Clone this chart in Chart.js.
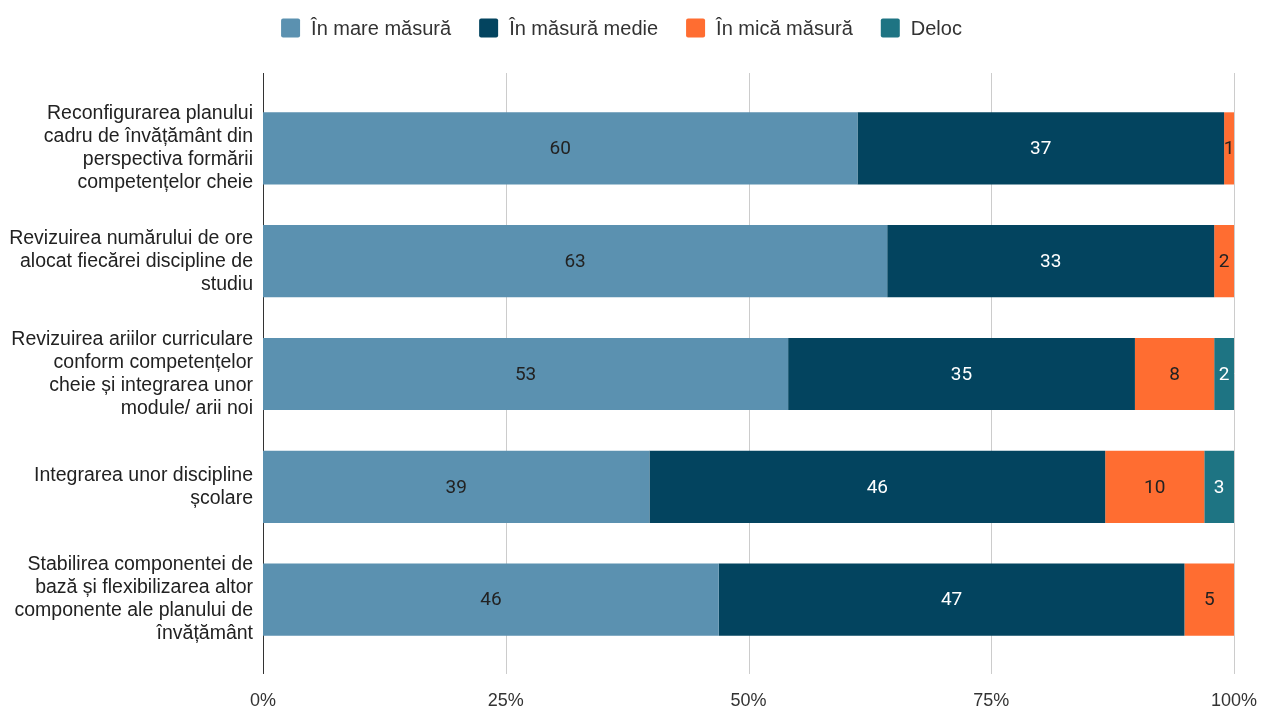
<!DOCTYPE html>
<html>
<head>
<meta charset="utf-8">
<script src="https://cdn.jsdelivr.net/npm/chart.js@4.4.1/dist/chart.umd.min.js"></script>
<style>
  html, body { margin: 0; padding: 0; background: #fff; }
  #wrap { width: 1261px; height: 712px; }
</style>
</head>
<body>
<div id="wrap"><canvas id="myChart"></canvas></div>
<script>
const categories = [
  ['Reconfigurarea planului', 'cadru de învățământ din', 'perspectiva formării', 'competențelor cheie'],
  ['Revizuirea numărului de ore', 'alocat fiecărei discipline de', 'studiu'],
  ['Revizuirea ariilor curriculare', 'conform competențelor', 'cheie și integrarea unor', 'module/ arii noi'],
  ['Integrarea unor discipline', 'școlare'],
  ['Stabilirea componentei de', 'bază și flexibilizarea altor', 'componente ale planului de', 'învățământ']
];

const seriesNames = ['În mare măsură', 'În măsură medie', 'În mică măsură', 'Deloc'];
const inMareMasura = [60, 63, 53, 39, 46];
const inMasuraMedie = [37, 33, 35, 46, 47];
const inMicaMasura = [1, 2, 8, 10, 5];
const deloc = [0, 0, 2, 3, 0];

const seriesColors = ['#5b91b0', '#03445f', '#ff6d31', '#1e7483'];
const labelColors = ['#222', '#fff', '#222', '#fff'];
const xTicks = [0, 25, 50, 75, 100];

const raw = [inMareMasura, inMasuraMedie, inMicaMasura, deloc];
const totals = categories.map((c, i) => raw.reduce((s, arr) => s + arr[i], 0));

const ctx = document.querySelector('#myChart');
const font = "'Liberation Sans', Arial, sans-serif";

// legend row across the top
const topLegend = {
  id: 'topLegend',
  afterDraw(chart) {
    const c = chart.ctx;
    const box = 19, gapText = 11, gapItem = 28, y = 28;
    c.save();
    c.font = '20px ' + font;
    c.textBaseline = 'middle';
    const widths = seriesNames.map(n => c.measureText(n).width);
    const total = widths.reduce((s, w) => s + box + gapText + w, 0) + gapItem * (seriesNames.length - 1);
    let x = chart.width / 2 - 9 - total / 2;
    seriesNames.forEach((name, i) => {
      c.fillStyle = seriesColors[i];
      c.beginPath();
      c.roundRect(x, y - box / 2, box, box, 2);
      c.fill();
      c.fillStyle = '#333';
      c.fillText(name, x + box + gapText, y + 1);
      x += box + gapText + widths[i] + gapItem;
    });
    c.restore();
  }
};

// vertical grid lines and the y axis line run a bit past the bars
const gridLines = {
  id: 'gridLines',
  beforeDatasetsDraw(chart) {
    const c = chart.ctx;
    const area = chart.chartArea;
    const x = chart.scales.x;
    c.save();
    c.lineWidth = 1;
    xTicks.forEach(v => {
      const px = Math.round(x.getPixelForValue(v)) + 0.5;
      c.strokeStyle = v === 0 ? '#333' : '#cccccc';
      c.beginPath();
      c.moveTo(px, area.top - 19);
      c.lineTo(px, area.bottom + 18);
      c.stroke();
    });
    c.restore();
  }
};

// value labels in the middle of each segment
const segmentLabels = {
  id: 'segmentLabels',
  afterDatasetsDraw(chart) {
    const c = chart.ctx;
    c.save();
    c.font = "19px Roboto, 'Liberation Sans', sans-serif";
    c.textAlign = 'center';
    c.textBaseline = 'middle';
    chart.data.datasets.forEach((ds, di) => {
      chart.getDatasetMeta(di).data.forEach((bar, i) => {
        const v = raw[di][i];
        if (!v) return;
        c.fillStyle = labelColors[di];
        c.fillText(String(v), (bar.x + bar.base) / 2, bar.y + 1);
      });
    });
    c.restore();
  }
};

const myChart = new Chart(ctx, {
  type: 'bar',
  data: {
    labels: categories,
    datasets: raw.map((arr, di) => ({
      label: seriesNames[di],
      data: arr.map((v, i) => v / totals[i] * 100),
      backgroundColor: seriesColors[di],
      borderWidth: 0,
      barPercentage: 0.64,
      categoryPercentage: 1
    }))
  },
  options: {
    indexAxis: 'y',
    responsive: true,
    maintainAspectRatio: false,
    animation: false,
    layout: { padding: { left: 0, right: 27, top: 92, bottom: 0 } },
    plugins: {
      tooltip: { enabled: false },
      legend: { display: false }
    },
    scales: {
      x: {
        stacked: true,
        min: 0,
        max: 100,
        afterBuildTicks: (scale) => { scale.ticks = xTicks.map(v => ({ value: v })); },
        afterFit: (scale) => {
          scale.height = 52;
          scale.paddingLeft = 0;
          scale.paddingRight = 0;
        },
        ticks: {
          color: '#333',
          font: { family: font, size: 18 },
          callback: v => v + '%',
          padding: 34,
          maxRotation: 0
        },
        grid: { display: false, drawTicks: false },
        border: { display: false }
      },
      y: {
        stacked: true,
        afterFit: (scale) => { scale.width = 263; },
        ticks: {
          color: '#222',
          font: { family: font, size: 19.5, lineHeight: 1.18 },
          padding: 10
        },
        grid: { display: false, drawTicks: false },
        border: { display: false }
      }
    }
  },
  plugins: [gridLines, segmentLabels, topLegend]
});
</script>
</body>
</html>
